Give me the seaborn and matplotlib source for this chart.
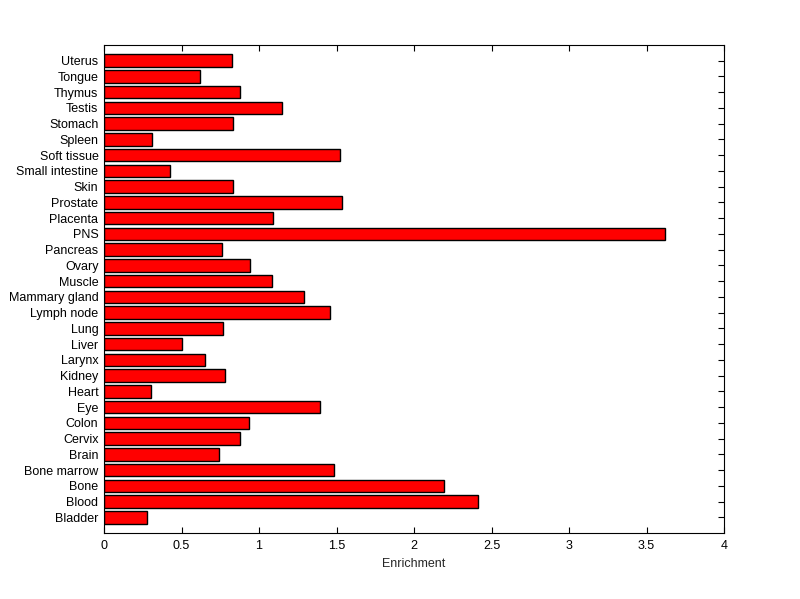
import pandas as pd
import numpy as np
import seaborn as sns
import matplotlib.pyplot as plt

# Tejidos (de arriba hacia abajo) y su enriquecimiento
tissues = ['Uterus', 'Tongue', 'Thymus', 'Testis', 'Stomach', 'Spleen',
           'Soft tissue', 'Small intestine', 'Skin', 'Prostate', 'Placenta',
           'PNS', 'Pancreas', 'Ovary', 'Muscle', 'Mammary gland', 'Lymph node',
           'Lung', 'Liver', 'Larynx', 'Kidney', 'Heart', 'Eye', 'Colon',
           'Cervix', 'Brain', 'Bone marrow', 'Bone', 'Blood', 'Bladder']
enrichment = [0.826, 0.619, 0.877, 1.148, 0.832, 0.310,
              1.523, 0.426, 0.832, 1.535, 1.090,
              3.622, 0.761, 0.942, 1.084, 1.290, 1.458,
              0.768, 0.503, 0.652, 0.781, 0.306, 1.394, 0.935,
              0.877, 0.742, 1.484, 2.194, 2.415, 0.277]
xticks = [0, 0.5, 1, 1.5, 2, 2.5, 3, 3.5, 4]
xtick_labels = ['0', '0.5', '1', '1.5', '2', '2.5', '3', '3.5', '4']

df = pd.DataFrame({'Tissue': tissues, 'Enrichment': enrichment})

sns.set_style('white')
plt.rcParams['font.family'] = ['Liberation Sans', 'DejaVu Sans']

fig = plt.figure(figsize=(8, 5.99), dpi=100)
ax = fig.add_axes([0.13, 0.11, 0.775, 0.815])

sns.barplot(data=df, y='Tissue', x='Enrichment', order=tissues, orient='h',
            color='#ff0000', saturation=1, edgecolor='black', linewidth=1,
            width=0.8, ax=ax)

ax.set_xlim(0, 4)
ax.set_ylim(len(tissues), -1)
ax.set_xticks(xticks)
ax.set_xticklabels(xtick_labels)
ax.set_xlabel('Enrichment', fontsize=9)
ax.set_ylabel('')

for s in ax.spines.values():
    s.set_color('black')
    s.set_linewidth(0.8)
    s.set_visible(True)

ax.tick_params(axis='both', direction='in', length=4, width=0.8, color='black',
               labelsize=9, labelcolor='black', top=True, right=True,
               bottom=True, left=True)
ax.tick_params(axis='x', pad=5)
ax.tick_params(axis='y', pad=4)

fig.savefig('out.png', dpi=100, facecolor='white')
